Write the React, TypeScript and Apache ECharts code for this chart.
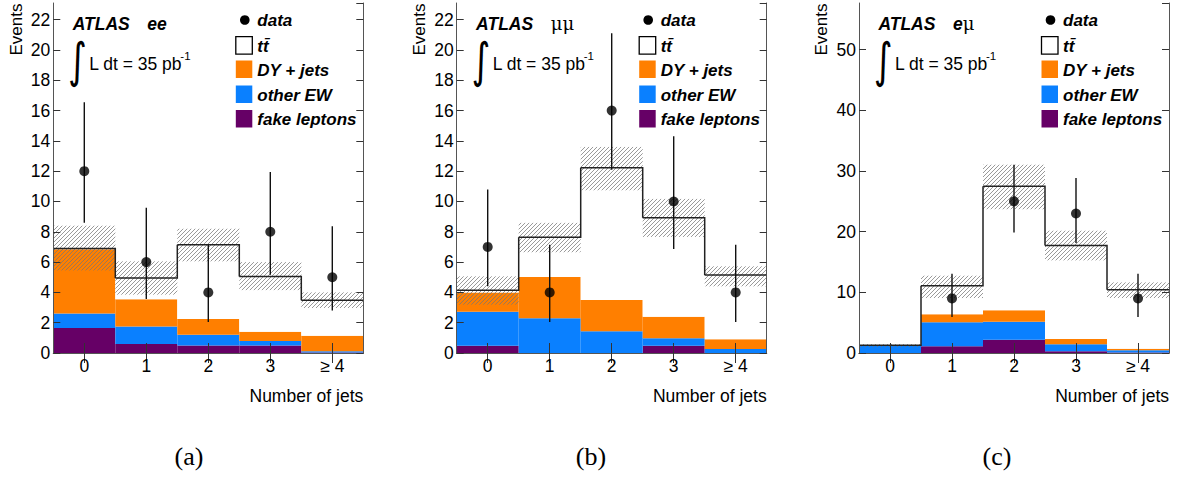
import React, { useEffect, useRef } from "react";
import * as echarts from "echarts";

// ---------- data ----------
const CATEGORIES = ["0", "1", "2", "3", "≥ 4"];
const LEGEND_NAMES = ["data", "tt\u0304", "DY + jets", "other EW", "fake leptons"];
const CHANNELS = ["ee", "μμ", "eμ"];
const CAPTIONS = ["(a)", "(b)", "(c)"];
const X_TITLE = "Number of jets";
const Y_TITLE = "Events";
const LUMI_TEXT = "L dt = 35 pb";
const LUMI_EXP = "-1";

// ee
const EE_FAKE = [1.65, 0.6, 0.5, 0.5, 0.04];
const EE_EW = [0.95, 1.15, 0.7, 0.3, 0.07];
const EE_DY = [4.25, 1.8, 1.05, 0.6, 1.03];
const EE_TT = [0.05, 1.4, 4.9, 3.65, 2.34];
const EE_BAND_LO = [5.45, 3.85, 6.05, 4.15, 2.97];
const EE_BAND_HI = [8.4, 6.05, 8.2, 6.0, 4.0];
const EE_DATA = [12, 6, 4, 8, 5];
const EE_ERR_LO = [8.6, 3.57, 2.05, 5.17, 2.8];
const EE_ERR_HI = [16.55, 9.58, 7.15, 11.95, 8.36];
const EE_Y_MAX = 23.1;
const EE_Y_STEP = 2;

// mumu
const MM_FAKE = [0.48, 0, 0, 0.48, 0];
const MM_EW = [2.25, 2.29, 1.43, 0.49, 0.26];
const MM_DY = [1.27, 2.73, 2.07, 1.43, 0.64];
const MM_TT = [0.14, 2.62, 8.72, 6.52, 4.25];
const MM_BAND_LO = [3.19, 6.65, 10.74, 7.66, 4.4];
const MM_BAND_HI = [5.06, 8.59, 13.6, 10.17, 5.72];
const MM_DATA = [7, 4, 16, 10, 4];
const MM_ERR_LO = [4.4, 2.05, 12.1, 6.87, 2.05];
const MM_ERR_HI = [10.79, 7.15, 21.1, 14.3, 7.15];
const MM_Y_MAX = 23.1;
const MM_Y_STEP = 2;

// emu
const EM_FAKE = [0, 1.1, 2.2, 0.27, 0.1];
const EM_EW = [1.2, 3.95, 2.96, 1.16, 0.34];
const EM_DY = [0.02, 1.32, 1.87, 0.87, 0.26];
const EM_TT = [0.05, 4.73, 20.44, 15.44, 9.74];
const EM_BAND_LO = [0.95, 9.06, 23.7, 15.27, 9.06];
const EM_BAND_HI = [1.45, 12.74, 31.04, 20.16, 11.64];
const EM_DATA = [0, 9, 25, 23, 9];
const EM_ERR_LO = [0, 5.93, 19.88, 18.13, 5.93];
const EM_ERR_HI = [0, 13.07, 31.04, 28.84, 13.07];
const EM_Y_MAX = 57.7;
const EM_Y_STEP = 10;

// ---------- styles ----------
const C_ORANGE = "#ff7f00";
const C_BLUE = "#0a80ff";
const C_PURPLE = "#660066";
const C_FRAME = "#555";
const C_HATCH = "#777";
const SANS = "'Liberation Sans', Arial, Helvetica, sans-serif";
const SERIF = "'Liberation Serif', 'DejaVu Serif', serif";

const PANELS = [
  { left: 53.3, fake: EE_FAKE, ew: EE_EW, dy: EE_DY, tt: EE_TT, bLo: EE_BAND_LO, bHi: EE_BAND_HI, data: EE_DATA, eLo: EE_ERR_LO, eHi: EE_ERR_HI, yMax: EE_Y_MAX, yStep: EE_Y_STEP, capX: 189 },
  { left: 456.7, fake: MM_FAKE, ew: MM_EW, dy: MM_DY, tt: MM_TT, bLo: MM_BAND_LO, bHi: MM_BAND_HI, data: MM_DATA, eLo: MM_ERR_LO, eHi: MM_ERR_HI, yMax: MM_Y_MAX, yStep: MM_Y_STEP, capX: 591 },
  { left: 859, fake: EM_FAKE, ew: EM_EW, dy: EM_DY, tt: EM_TT, bLo: EM_BAND_LO, bHi: EM_BAND_HI, data: EM_DATA, eLo: EM_ERR_LO, eHi: EM_ERR_HI, yMax: EM_Y_MAX, yStep: EM_Y_STEP, capX: 997 },
];
const GRID_TOP = 3;
const GRID_W = 310;
const GRID_H = 350;

function txt(x: number, y: number, text: string, opts: any = {}) {
  return {
    type: "text",
    x,
    y,
    z: 20,
    style: {
      text,
      fill: "#000",
      fontFamily: SANS,
      fontSize: 17,
      align: opts.align || "left",
      textAlign: opts.align || "left",
      verticalAlign: "middle",
      textVerticalAlign: "middle",
      ...opts.style,
    },
    ...(opts.el || {}),
  };
}

function buildOption() {
  const grid: any[] = [];
  const xAxis: any[] = [];
  const yAxis: any[] = [];
  const series: any[] = [];
  const graphic: any[] = [];

  const axisCommon = {
    axisLine: { show: true, lineStyle: { color: C_FRAME, width: 1 } },
    splitLine: { show: false },
    z: 10,
  };

  PANELS.forEach((p, k) => {
    grid.push({ left: p.left, top: GRID_TOP, width: GRID_W, height: GRID_H });
    ["bottom", "top"].forEach((pos) => {
      xAxis.push({
        ...axisCommon,
        gridIndex: k,
        type: "category",
        data: CATEGORIES,
        position: pos,
        boundaryGap: true,
        axisTick: { show: true, inside: true, length: 10, alignWithLabel: true, interval: 0, lineStyle: { color: "#333" } },
        axisLabel: pos === "bottom"
          ? { show: true, margin: 4, fontSize: 17.5, color: "#000", fontFamily: SANS, interval: 0 }
          : { show: false },
      });
    });
    ["left", "right"].forEach((pos) => {
      yAxis.push({
        ...axisCommon,
        gridIndex: k,
        type: "value",
        min: 0,
        max: p.yMax,
        interval: p.yStep,
        position: pos,
        axisTick: { show: true, inside: true, length: 7, lineStyle: { color: "#333" } },
        axisLabel: pos === "left"
          ? { show: true, margin: 3, fontSize: 17.5, color: "#000", fontFamily: SANS, showMaxLabel: false }
          : { show: false },
      });
    });

    const xi = 2 * k;
    const yi = 2 * k;
    const stackName = "stack" + k;
    const comps = [
      { name: LEGEND_NAMES[4], vals: p.fake, color: C_PURPLE },
      { name: LEGEND_NAMES[3], vals: p.ew, color: C_BLUE },
      { name: LEGEND_NAMES[2], vals: p.dy, color: C_ORANGE },
      { name: LEGEND_NAMES[1], vals: p.tt, color: "#ffffff" },
    ];
    comps.forEach((c) => {
      series.push({
        type: "bar",
        name: c.name,
        xAxisIndex: xi,
        yAxisIndex: yi,
        stack: stackName,
        barWidth: "100%",
        barCategoryGap: "0%",
        data: c.vals,
        itemStyle: { color: c.color },
        z: 2,
        silent: true,
      });
    });

    const totals = p.fake.map((v, i) => v + p.ew[i] + p.dy[i] + p.tt[i]);

    // hatched uncertainty band
    series.push({
      type: "custom",
      xAxisIndex: xi,
      yAxisIndex: yi,
      z: 3,
      silent: true,
      data: p.bLo.map((lo, i) => [i, lo, p.bHi[i]]),
      encode: { x: 0, y: [1, 2] },
      renderItem: (params: any, api: any) => {
        const i = api.value(0);
        const pLo = api.coord([i, api.value(1)]);
        const pHi = api.coord([i, api.value(2)]);
        const w = api.size([1, 0])[0];
        const x0 = pLo[0] - w / 2;
        const x1 = pLo[0] + w / 2;
        const yTop = pHi[1];
        const yBot = pLo[1];
        const s = 4;
        const children: any[] = [];
        const cStart = Math.ceil((x0 + yTop) / s) * s;
        const cEnd = x1 + yBot;
        for (let c = cStart; c <= cEnd; c += s) {
          const xa = Math.max(x0, c - yBot);
          const xb = Math.min(x1, c - yTop);
          if (xb > xa) {
            children.push({
              type: "line",
              shape: { x1: xa, y1: c - xa, x2: xb, y2: c - xb },
              style: { stroke: C_HATCH, lineWidth: 0.75 },
            });
          }
        }
        return { type: "group", children };
      },
    });

    // step outline of the total prediction
    series.push({
      type: "custom",
      xAxisIndex: xi,
      yAxisIndex: yi,
      z: 4,
      silent: true,
      data: totals.map((t, i) => [i, t, i < totals.length - 1 ? totals[i + 1] : t]),
      encode: { x: 0, y: 1 },
      renderItem: (params: any, api: any) => {
        const i = api.value(0);
        const pt = api.coord([i, api.value(1)]);
        const pn = api.coord([i, api.value(2)]);
        const w = api.size([1, 0])[0];
        return {
          type: "polyline",
          shape: { points: [[pt[0] - w / 2, pt[1]], [pt[0] + w / 2, pt[1]], [pt[0] + w / 2, pn[1]]] },
          style: { stroke: "#222", lineWidth: 1.5, fill: null },
        };
      },
    });

    // error bars
    series.push({
      type: "custom",
      xAxisIndex: xi,
      yAxisIndex: yi,
      z: 5,
      silent: true,
      data: p.data.map((v, i) => [i, p.eLo[i], p.eHi[i], v]).filter((d) => d[3] > 0),
      encode: { x: 0, y: [1, 2] },
      renderItem: (params: any, api: any) => {
        const i = api.value(0);
        const a = api.coord([i, api.value(1)]);
        const b = api.coord([i, api.value(2)]);
        return {
          type: "line",
          shape: { x1: a[0], y1: a[1], x2: b[0], y2: b[1] },
          style: { stroke: "#111", lineWidth: 1.4 },
        };
      },
    });

    // data points
    series.push({
      type: "scatter",
      name: LEGEND_NAMES[0],
      xAxisIndex: xi,
      yAxisIndex: yi,
      z: 6,
      silent: true,
      symbol: "circle",
      symbolSize: 10,
      itemStyle: { color: "#000" },
      data: p.data.map((v, i) => [i, v]).filter((d) => d[1] > 0),
    });

    // ---------- annotations ----------
    const L = p.left;
    graphic.push({
      type: "text",
      x: L - 37.3,
      y: GRID_TOP + 0.5,
      rotation: Math.PI / 2,
      z: 20,
      style: {
        text: Y_TITLE, fill: "#000", fontFamily: SANS, fontSize: 17,
        align: "right", textAlign: "right", verticalAlign: "middle", textVerticalAlign: "middle",
      },
    });
    graphic.push(txt(L + GRID_W, 396, X_TITLE, { align: "right", style: { fontSize: 17.5 } }));
    graphic.push(txt(L + 19.4, 23.5, "ATLAS", { style: { fontWeight: "bold", fontStyle: "italic", fontSize: 17.5 } }));
    const ch = CHANNELS[k];
    graphic.push({
      type: "text",
      x: L + 94,
      y: 23.5,
      z: 20,
      style: {
        text: ch.split("").map((c) => (c === "μ" ? "{m|" + c + "}" : "{e|" + c + "}")).join(""),
        fill: "#000",
        align: "left", textAlign: "left", verticalAlign: "middle", textVerticalAlign: "middle",
        rich: {
          e: { fontFamily: SANS, fontWeight: "bold", fontStyle: "italic", fontSize: 17.5, fill: "#000" },
          m: { fontFamily: "'DejaVu Serif', serif", fontWeight: "normal", fontSize: 18, fill: "#000" },
        },
      },
    });
    // luminosity
    graphic.push(txt(L + 24.3, 61, "∫", {
      align: "center",
      style: { fontFamily: "'DejaVu Sans', sans-serif", fontSize: 48, fontWeight: "normal" },
      el: { scaleX: 0.75, originX: 0, originY: 0 },
    }));
    graphic.push(txt(L + 36, 64, LUMI_TEXT, { style: { fontSize: 17.5 } }));
    graphic.push(txt(L + 127, 55.5, LUMI_EXP, { style: { fontSize: 11.5 } }));

    // legend
    const gx = L + 182.5;
    graphic.push({ type: "circle", z: 20, shape: { cx: gx + 9, cy: 20, r: 4.8 }, style: { fill: "#000" } });
    graphic.push(txt(gx + 21.5, 20.5, LEGEND_NAMES[0], { style: { fontWeight: "bold", fontStyle: "italic" } }));
    const rows = [
      { y: 36.7, fill: "#fff", stroke: "#000", name: LEGEND_NAMES[1] },
      { y: 60.5, fill: C_ORANGE, stroke: null, name: LEGEND_NAMES[2] },
      { y: 85.5, fill: C_BLUE, stroke: null, name: LEGEND_NAMES[3] },
      { y: 110, fill: C_PURPLE, stroke: null, name: LEGEND_NAMES[4] },
    ];
    rows.forEach((r) => {
      graphic.push({
        type: "rect", z: 20,
        shape: { x: gx, y: r.y, width: 16.5, height: 17.5 },
        style: { fill: r.fill, stroke: r.stroke, lineWidth: r.stroke ? 1.3 : 0 },
      });
      graphic.push(txt(gx + 21.5, r.y + 9.5, r.name, { style: { fontWeight: "bold", fontStyle: "italic" } }));
    });

    // caption
    graphic.push(txt(p.capX, 456, CAPTIONS[k], { align: "center", style: { fontFamily: SERIF, fontSize: 26 } }));
  });

  return {
    animation: false,
    backgroundColor: "#fff",
    grid,
    xAxis,
    yAxis,
    series,
    graphic,
  };
}

export default function App() {
  const ref = useRef<HTMLDivElement>(null);
  useEffect(() => {
    if (!ref.current) return;
    const chart = echarts.init(ref.current, null, { renderer: "svg" });
    chart.setOption(buildOption() as any);
    return () => chart.dispose();
  }, []);
  return (
    <div
      ref={ref}
      style={{ position: "fixed", left: 0, top: 0, width: 1178, height: 478, background: "#fff" }}
    />
  );
}
